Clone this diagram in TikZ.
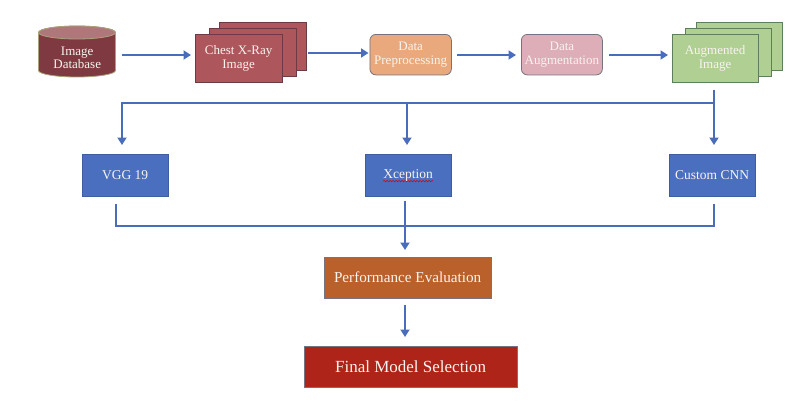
\documentclass[tikz,border=0pt]{standalone}
\usepackage{fontspec}
\setmainfont{Liberation Serif}
\usetikzlibrary{arrows.meta,decorations.pathmorphing}
\definecolor{flowblue}{HTML}{4A6DBB}
\definecolor{boxblue}{HTML}{4A6FBE}
\definecolor{dbbody}{HTML}{7E3A40}
\definecolor{dbtop}{HTML}{B0777B}
\definecolor{dbedge}{HTML}{A9A27C}
\definecolor{chestfill}{HTML}{AD565B}
\definecolor{chestedge}{HTML}{6E3A48}
\definecolor{prefill}{HTML}{E9A97C}
\definecolor{augfill}{HTML}{DDADB8}
\definecolor{greenfill}{HTML}{B0CF93}
\definecolor{greenedge}{HTML}{5E7F5C}
\definecolor{softedge}{HTML}{77727F}
\definecolor{perffill}{HTML}{B9602B}
\definecolor{finalfill}{HTML}{AF2418}
\definecolor{labelwhite}{HTML}{F8F3EE}
\tikzset{
  x=1pt, y=-1pt,
  label text/.style={text=labelwhite, font=\fontsize{13}{13.5}\selectfont, align=center, inner sep=0pt},
  box/.style={label text, anchor=north west, line width=0.8pt},
  stack/.style={box, draw=chestedge, fill=chestfill, minimum width=86.5pt, minimum height=47.5pt},
  gstack/.style={box, draw=greenedge, fill=greenfill, minimum width=85.5pt, minimum height=47.5pt},
  round box/.style={box, rounded corners=6pt, draw=softedge, minimum width=81.5pt, minimum height=40.5pt},
  model/.style={box, draw=boxblue!85!black, fill=boxblue, minimum width=85.5pt, minimum height=41.5pt, font=\fontsize{13.5}{14}\selectfont},
  flow/.style={draw=flowblue, line width=2.3pt, -{Triangle[length=7.5pt,width=9pt]}},
  flowline/.style={draw=flowblue, line width=2.3pt}
}
\begin{document}
\begin{tikzpicture}
\useasboundingbox (0,0) rectangle (800,418);
% database
\draw[fill=dbbody, draw=dbedge, line width=0.8pt] (38.5,32.5) -- (38.5,70.5) arc[start angle=180,end angle=360,x radius=38.5pt,y radius=6.5pt] -- (115.5,32.5) arc[start angle=0,end angle=180,x radius=38.5pt,y radius=6.5pt] -- cycle;
\draw[fill=dbtop, draw=dbedge, line width=0.8pt] (77,32.5) ellipse[x radius=38.5pt,y radius=6.5pt];
\node[label text, minimum width=77pt, minimum height=41pt, anchor=north west] (db) at (38.5,37) {Image\\Database};
% chest stack
\node[stack] (chest3) at (219,22) {};
\node[stack] (chest2) at (209,28) {};
\node[stack] (chest) at (195,34) {Chest X-Ray\\Image};
% processing
\node[round box, fill=prefill] (pre) at (369.5,34) {Data\\Preprocessing};
\node[round box, fill=augfill, minimum width=81pt] (aug) at (521,34) {Data\\Augmentation};
% augmented stack
\node[gstack] (img3) at (696,22) {};
\node[gstack] (img2) at (685,28) {};
\node[gstack] (img) at (672,34) {Augmented\\Image};
% models
\node[model] (vgg) at (82,154) {VGG 19};
\node[model] (xcp) at (365,154) {Xception};
\node[model] (cnn) at (669,154) {Custom CNN};
\draw[red!85!black, line width=0.5pt, decorate, decoration={snake,amplitude=0.7pt,segment length=3pt}] ([xshift=-25pt,yshift=-6pt]xcp.center) -- ([xshift=25pt,yshift=-6pt]xcp.center);
% results
\node[box, draw=softedge, fill=perffill, minimum width=166.5pt, minimum height=40.5pt, font=\fontsize{15.2}{17}\selectfont] (perf) at (324,257) {Performance Evaluation};
\node[box, draw=softedge, fill=finalfill, minimum width=212.5pt, minimum height=40.5pt, font=\fontsize{17}{19}\selectfont] (final) at (304,346) {Final Model Selection};
% top row connectors
\coordinate (rowa) at (0,55);
\coordinate (rowb) at (0,53);
\draw[flow, shorten <=6pt, shorten >=4pt] (db.east |- rowa) -- (chest.west |- rowa);
\draw[flow, shorten <=26pt, shorten >=1pt] (chest.east |- rowb) -- (pre.west |- rowb);
\draw[flow, shorten <=5pt, shorten >=5pt] (pre.east |- rowa) -- (aug.west |- rowa);
\draw[flow, shorten <=6pt, shorten >=4pt] (aug.east |- rowa) -- (img.west |- rowa);
% fan-out
\coordinate (fan) at (714,103);
\coordinate (fanstart) at (714,90);
\coordinate (fanleft) at (122,103);
\coordinate (fanmid) at (407,103);
\draw[flowline] (fanstart) -- (fan);
\draw[flow] (fan) -- (fanleft) -- (fanleft |- 0,145);
\draw[flow] (fanmid) -- (fanmid |- 0,145);
\draw[flow] (fan) -- (fan |- 0,145);
% fan-in
\coordinate (inleft) at (116,204);
\coordinate (inmid) at (405,201);
\coordinate (inright) at (714,204);
\draw[flowline] (inleft) -- (inleft |- 0,226) -- (inright |- 0,226) -- (inright);
\draw[flow, shorten >=7pt] (inmid) -- (inmid |- perf.north);
\draw[flow, shorten <=7pt, shorten >=9pt] (inmid |- perf.south) -- (inmid |- final.north);
\end{tikzpicture}
\end{document}
